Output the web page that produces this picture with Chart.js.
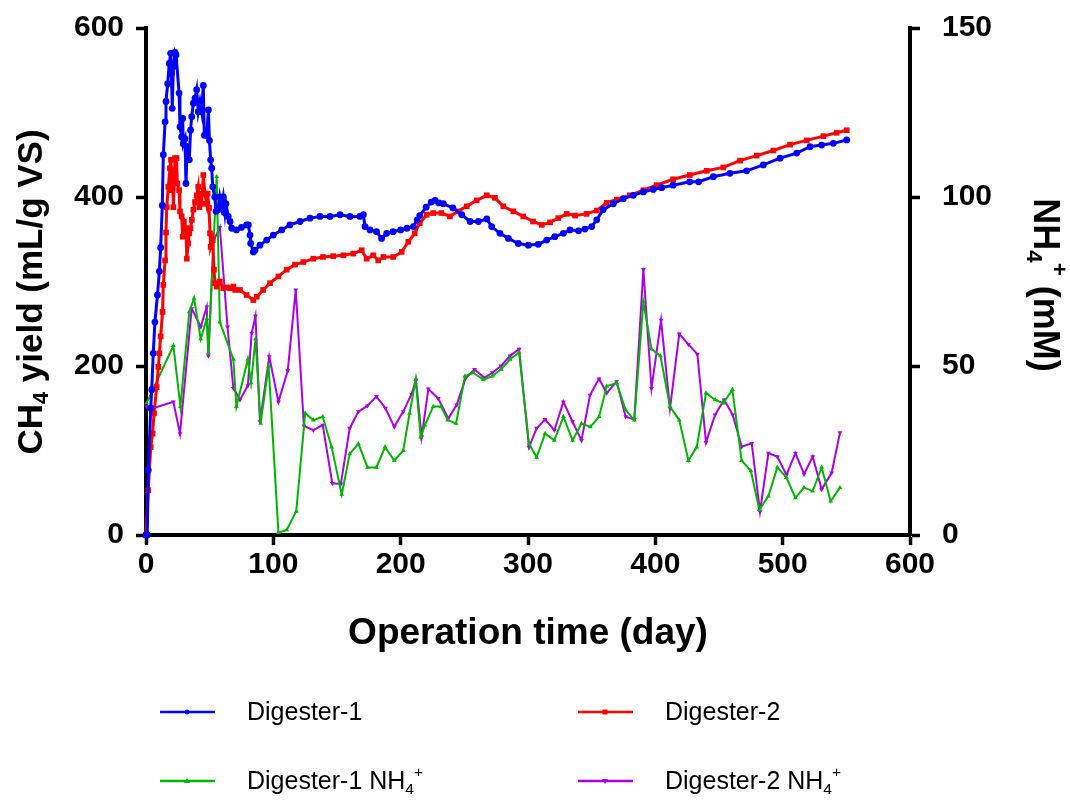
<!DOCTYPE html>
<html>
<head>
<meta charset="utf-8">
<title>CH4 yield and NH4+</title>
<style>
  html, body { margin: 0; padding: 0; background: #fff; }
  #wrap { width: 1070px; height: 806px; }
</style>
</head>
<body>
<div id="wrap"><canvas id="chart" width="1070" height="806"></canvas></div>
<script src="https://cdn.jsdelivr.net/npm/chart.js@4.4.1/dist/chart.umd.min.js"></script>
<script>
// Digester-1 CH4 yield (mL/g VS)
const d1Days = [0,1,1.8,3.7,4.5,5.7,7,9,10.5,11.5,12.8,13.6,15,15.7,17,18.3,19.4,20,20.6,21.5,22.8,23.6,26,26.7,28,28.8,29.3,30.6,31.4,32.4,34,35,35.9,37.2,38.5,39.8,41,42.4,43.7,45,45.8,47.7,49,49.8,50.8,51.6,52.4,54,55,56.8,58,59.4,60.7,62,62.8,64.6,66,67.3,71,75,79,80.4,81.7,82.2,84.3,85.6,89.5,94.8,100,106.6,113,121,128.8,136.6,144.5,152.4,160.2,168,170.7,172,176,181,185,189,194,200,205,210,213,215,220,224,227,230,233.5,241,248,254.5,261,267.6,271.5,278,284.6,292.4,300.3,308,314.7,321,327.8,333,339.6,344.8,350,354,359,367,374.8,382.7,390.6,398.4,405,414,427,434,445.6,458.6,471.7,484.8,498,511,521.5,530.6,539.8,550.3];
const d1Yield = [0,0,77,150,172,215,252,284,312,340,390,450,489,513,534,558,570,546,505,554,571,568,523,483,471,493,463,469,416,460,444,479,495,511,517,527,501,513,501,532,473,473,503,467,444,434,412,400,383,385,400,388,400,381,392,377,371,363,361,364,367,367,355,345,335,337,343,349,355,361,367,371,375,377,377,379,377,377,379,365,361,359,351,357,359,361,363,365,373,378,388,394,396,393,392,387,379,371,371,374,365,357,351,345,343,344,349,353,357,361,360,362,365,373,385,392,398,402,406,409,411,414,418,418,424,428,431,438,446,452,459.5,461.5,463.5,467.5];

// Digester-2 CH4 yield (mL/g VS)
const d2Days = [0,1.8,3.7,5.2,6.3,8.4,9.7,10.5,11.5,13,13.6,15,15.7,16.3,17.5,18.8,19.6,20,20.7,21.5,22.3,22.8,24,24.6,26,26.7,28,28.8,29.8,31.4,32,33.2,34,35,36,37.2,38.5,39.8,41,41.9,43,43.7,45,46.3,47.7,48.4,49.5,50.3,50.8,52.4,53.4,54.2,55.5,58,60.7,63.4,66,68.6,70,73.8,79,84.3,87,92,97.4,104,110.5,117,123.6,131.4,139,147,155,162.8,169.4,173.3,178.5,182.4,186.4,194.2,200.8,206,211,215,220.4,225.6,232,238.7,245,251.9,259.7,267.6,274,280.6,288.5,296.3,304,310.8,317.3,323.8,330.4,337,346,354,361.8,369.7,380,390.6,401,414,427,440.3,453.4,466.5,479.6,492.7,505.8,518.9,532,542.4,550.3];
const d2Yield = [0,53,104,120,144,175,199,215,235,264,296,325,358,388,412,434,444,408,432,388,422,446,446,416,408,383,377,353,371,363,327,345,357,363,373,385,394,402,412,388,404,392,426,404,392,404,387,357,341,349,314,298,294,300,292,293,292,294,290,290,284,278,282,290,298,306,314,320,323,327,329,330,331,333,337,327,331,325,329,329,335,347,357,369,379,381,381,377,383,389,396,402,399,389,383,377,371,367,370,375,380,378,380,384,393,397,402,408,414,421,426,431,435,443,449,455,462,467,472,476,479];

// Digester-1 NH4+ (mM)
const n1Days = [0.5,21.5,27,34,37.7,43,47.7,49,55.5,58,68.6,71,80,82.5,86,90,96.3,104,110.5,118,125,131.4,138.8,145.8,153.7,160,166.8,174,181,187.7,195,202,207,211.8,215.7,219,225.6,231.7,237,243.5,250.5,257,265,272,278.8,285.9,293,300.8,306.8,313.4,320.7,327.8,335,342,349,355.8,361.8,369.6,376.7,383.5,390.6,397,404,411.5,418.8,426,432.5,439.8,446.9,453.4,460.5,467.8,475,481.7,488.8,495.8,503,510,516.8,523.6,530.6,537.7,545];
const n1Vals = [39,56,38,66,70,58,64,54,106,63,52,38,52,45,58,33,50,0.7,1.5,7,36,34,35,26,12,24,27,20,20,26,22,25,36,46,29,32.5,38,38,34,33,47,48,46,47,49,52,54,27,23,30,28,35,28,33,32,35,44,45,37,34,69,55,53,38,34,22,26,42,40,39,43,22,19,7.5,11.5,20,17,11,14,13,20,10,14];

// Digester-2 NH4+ (mM)
const n2Days = [0.5,5.7,21.5,26.7,35.9,43,47.7,49,53,58,64,68.6,73.8,80,83,86,89.5,96.8,104,111.3,117.6,124,131.4,138.8,146.3,153,160,166.8,173.8,181,188,195,202,208.6,212,216.5,221.7,229.5,237.4,244,251,258,265.7,272,278.8,285.9,293,300.8,306.8,313.4,320.7,327.8,335,342,348.7,355.8,361.8,369.6,376.7,383.5,390.6,397,404.5,411.5,418.8,426,433,439.8,446.9,454,460.8,467.8,475.7,482.2,488.8,495.8,503,510,516.8,523.6,530.6,538.5,545];
const n2Vals = [38,37.5,39.4,30,67,61.6,67.5,53,87,91,61.6,43.4,40,44.2,59.7,64.8,33.5,52.8,39.4,48.6,72.5,32.3,31,32.5,15.3,15.1,31.6,36.5,38.2,41,37.5,32,36.5,41.7,45.9,29,43.2,40.4,34.5,38.5,46.4,49,46.5,48,50,53,55,26,31.6,34.2,31,39.4,33.5,28,41.4,46.2,42,45.4,35,34.2,78.6,43.4,63.6,37.5,59.5,56.4,53.5,27.4,35.5,40,35.5,26.1,27.1,6.9,24.2,23.2,17.8,24.2,18,23.2,13.5,18.4,30.3];

const xTicks = [0, 100, 200, 300, 400, 500, 600];
const leftTicks = [0, 200, 400, 600];
const rightTicks = [0, 50, 100, 150];

function pts(xs, ys) {
  return xs.map((x, i) => ({x: x, y: ys[i]}));
}

const FONT = 'Liberation Sans, Arial, sans-serif';
const BLUE = '#0000ff', RED = '#ff0000', GREEN = '#00b400', PURPLE = '#aa00e6';

// draw text made of parts: normal, sub, sup
function richWidth(ctx, parts, size) {
  let w = 0;
  parts.forEach(p => {
    const s = p.k === 'n' ? size : size * 0.62;
    ctx.font = (p.b ? 'bold ' : '') + s + 'px ' + FONT;
    w += ctx.measureText(p.t).width;
  });
  return w;
}
function drawRich(ctx, parts, x, y, size, center) {
  let cx = center ? x - richWidth(ctx, parts, size) / 2 : x;
  ctx.textBaseline = 'middle';
  ctx.textAlign = 'left';
  parts.forEach(p => {
    const s = p.k === 'n' ? size : size * 0.62;
    let dy = 0;
    if (p.k === 'sub') dy = size * 0.3;
    if (p.k === 'sup') dy = -size * 0.38;
    ctx.font = (p.b ? 'bold ' : '') + s + 'px ' + FONT;
    ctx.fillText(p.t, cx, y + dy);
    cx += ctx.measureText(p.t).width;
  });
}

const legendItems = [
  {label: [{t: 'Digester-1', k: 'n'}], color: BLUE, style: 'circle', x: 160, y: 712},
  {label: [{t: 'Digester-2', k: 'n'}], color: RED, style: 'rect', x: 578, y: 712},
  {label: [{t: 'Digester-1 NH', k: 'n'}, {t: '4', k: 'sub'}, {t: '+', k: 'sup'}], color: GREEN, style: 'triangle', x: 160, y: 781},
  {label: [{t: 'Digester-2 NH', k: 'n'}, {t: '4', k: 'sub'}, {t: '+', k: 'sup'}], color: PURPLE, style: 'tri-down', x: 578, y: 781}
];

const textPlugin = {
  id: 'textPlugin',
  afterDraw(chart) {
    const ctx = chart.ctx;
    const area = chart.chartArea;
    ctx.save();
    ctx.fillStyle = '#000';
    // x title
    drawRich(ctx, [{t: 'Operation time (day)', k: 'n', b: true}], (area.left + area.right) / 2, 634, 37, true);
    // left title
    ctx.save();
    ctx.translate(32, 292);
    ctx.rotate(-Math.PI / 2);
    drawRich(ctx, [{t: 'CH', k: 'n', b: true}, {t: '4', k: 'sub', b: true}, {t: ' yield (mL/g VS)', k: 'n', b: true}], 0, 0, 35, true);
    ctx.restore();
    // right title
    ctx.save();
    ctx.translate(1044, 285);
    ctx.rotate(Math.PI / 2);
    drawRich(ctx, [{t: 'NH', k: 'n', b: true}, {t: '4', k: 'sub', b: true}, {t: '+', k: 'sup', b: true}, {t: ' (mM)', k: 'n', b: true}], 0, 0, 36, true);
    ctx.restore();
    // legend
    legendItems.forEach(it => {
      ctx.strokeStyle = it.color;
      ctx.fillStyle = it.color;
      ctx.lineWidth = 2.5;
      ctx.beginPath();
      ctx.moveTo(it.x, it.y);
      ctx.lineTo(it.x + 55, it.y);
      ctx.stroke();
      const mx = it.x + 27, my = it.y;
      ctx.beginPath();
      if (it.style === 'circle') ctx.arc(mx, my, 2.5, 0, Math.PI * 2);
      else if (it.style === 'rect') ctx.rect(mx - 2.5, my - 2.5, 5, 5);
      else if (it.style === 'triangle') { ctx.moveTo(mx, my - 3); ctx.lineTo(mx + 3, my + 2); ctx.lineTo(mx - 3, my + 2); }
      else { ctx.moveTo(mx, my + 3); ctx.lineTo(mx + 3, my - 2); ctx.lineTo(mx - 3, my - 2); }
      ctx.fill();
      ctx.fillStyle = '#000';
      drawRich(ctx, it.label, it.x + 87, it.y + 1, 25, false);
    });
    ctx.restore();
  }
};

const tickFont = {family: FONT, size: 30, weight: 'bold'};

new Chart(document.getElementById('chart'), {
  type: 'line',
  data: {
    datasets: [
      {label: 'Digester-1', data: pts(d1Days, d1Yield), yAxisID: 'yL', borderColor: BLUE, backgroundColor: BLUE,
       borderWidth: 3, pointStyle: 'circle', pointRadius: 3.4, pointBorderWidth: 0, tension: 0},
      {label: 'Digester-2', data: pts(d2Days, d2Yield), yAxisID: 'yL', borderColor: RED, backgroundColor: RED,
       borderWidth: 3, pointStyle: 'rect', pointRadius: 4, pointBorderWidth: 0, tension: 0},
      {label: 'Digester-1 NH4+', data: pts(n1Days, n1Vals), yAxisID: 'yR', borderColor: GREEN, backgroundColor: GREEN,
       borderWidth: 2, pointStyle: 'triangle', pointRadius: 2.8, pointBorderWidth: 0, tension: 0},
      {label: 'Digester-2 NH4+', data: pts(n2Days, n2Vals), yAxisID: 'yR', borderColor: PURPLE, backgroundColor: PURPLE,
       borderWidth: 2, pointStyle: 'triangle', pointRotation: 180, pointRadius: 2.8, pointBorderWidth: 0, tension: 0}
    ]
  },
  options: {
    responsive: false,
    animation: false,
    clip: false,
    layout: {padding: {top: 28, left: 0, right: 0, bottom: 0}},
    plugins: {legend: {display: false}, tooltip: {enabled: false}},
    scales: {
      x: {
        type: 'linear', min: 0, max: 600,
        afterBuildTicks: s => { s.ticks = xTicks.map(v => ({value: v})); },
        afterFit: s => { s.height = 271; s.paddingLeft = 0; s.paddingRight = 0; },
        ticks: {font: tickFont, color: '#000', padding: 2, maxRotation: 0},
        grid: {drawOnChartArea: false, drawTicks: true, tickLength: 10, tickWidth: 3.5, tickColor: '#000'},
        border: {display: true, width: 4, color: '#000'}
      },
      yL: {
        type: 'linear', position: 'left', min: 0, max: 600,
        afterBuildTicks: s => { s.ticks = leftTicks.map(v => ({value: v})); },
        afterFit: s => { s.width = 146; s.paddingTop = 0; s.paddingBottom = 0; },
        ticks: {font: tickFont, color: '#000', padding: 12},
        grid: {drawOnChartArea: false, drawTicks: true, tickLength: 10, tickWidth: 3.5, tickColor: '#000'},
        border: {display: true, width: 4, color: '#000'}
      },
      yR: {
        type: 'linear', position: 'right', min: 0, max: 150,
        afterBuildTicks: s => { s.ticks = rightTicks.map(v => ({value: v})); },
        afterFit: s => { s.width = 160; s.paddingTop = 0; s.paddingBottom = 0; },
        ticks: {font: tickFont, color: '#000', padding: 22},
        grid: {drawOnChartArea: false, drawTicks: true, tickLength: 10, tickWidth: 3.5, tickColor: '#000'},
        border: {display: true, width: 4, color: '#000'}
      }
    }
  },
  plugins: [textPlugin]
});
</script>
</body>
</html>
